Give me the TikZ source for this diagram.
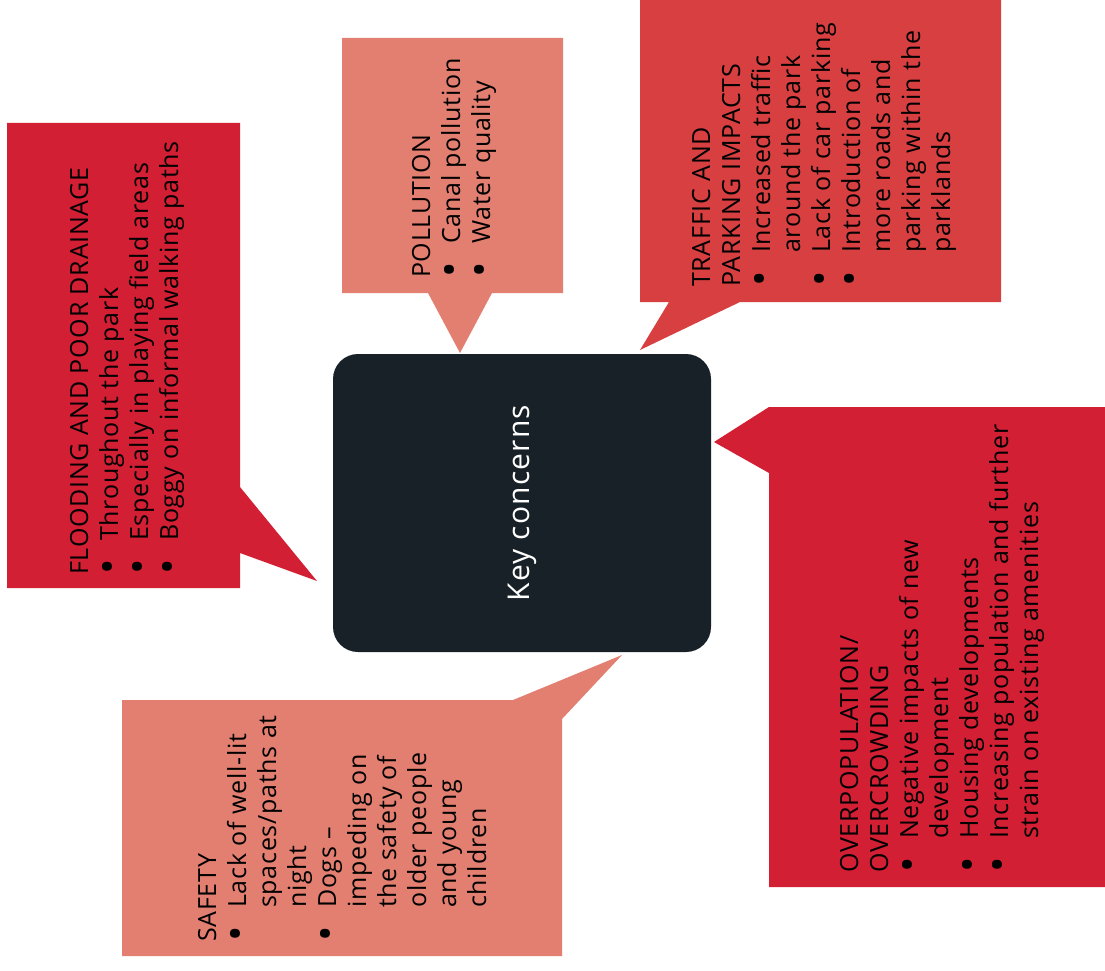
\documentclass[tikz,border=0pt]{standalone}
\usepackage{fontspec}
\setmainfont{Open Sans}
\usepackage{array}
\definecolor{floodred}{RGB}{210,31,51}
\definecolor{trafficred}{RGB}{216,63,64}
\definecolor{salmon}{RGB}{226,127,112}
\definecolor{keydark}{RGB}{24,33,39}
\newcommand{\concernfont}{\fontsize{25}{30}\selectfont\addfontfeatures{LetterSpace=3}}
\newcommand{\bul}{\raisebox{-4.5pt}{\scalebox{1.65}{\textbullet}}}
\tikzset{
  concern/.style={rotate=90, anchor=north west, inner sep=0pt, text=black,
    font=\concernfont},
  keybox/.style={fill=keydark, rounded corners=25pt, minimum width=378pt,
    minimum height=298pt, inner sep=0pt},
  keytext/.style={rotate=90, text=white, inner sep=0pt,
    font=\fontsize{30}{36}\selectfont\addfontfeatures{LetterSpace=4}},
}
\newenvironment{clist}{\begin{tabular}{@{}p{34pt}@{}l@{}}}{\end{tabular}}
\begin{document}
\begin{tikzpicture}[x=1pt, y=-1pt]
  \useasboundingbox (0,0) rectangle (1105,971);

  % central box
  \node[keybox] (key) at (522,503) {};
  \node[keytext] (keylabel) at (key.center) {Key concerns};

  % callout shapes with their pointers
  \fill[floodred] (7,123) -- (240,123) -- (240,487) -- (317,581) -- (240,553)
    -- (240,588) -- (7,588) -- cycle;
  \fill[salmon] (342,38) -- (563,38) -- (563,293) -- (492,293) -- (460,353)
    -- (428,293) -- (342,293) -- cycle;
  \fill[trafficred] (640,0) -- (1001,0) -- (1001,302) -- (740,302) -- (640,350)
    -- (669,302) -- (640,302) -- cycle;
  \fill[floodred] (769,407) -- (1105,407) -- (1105,887) -- (769,887)
    -- (769,473) -- (714,442) -- cycle;
  \fill[salmon] (122,700) -- (513,700) -- (622,655) -- (562,719) -- (562,956)
    -- (122,956) -- cycle;

  % texts
  \node[concern] (flood) at (67,575) {\begin{clist}
    \multicolumn{2}{@{}l@{}}{FLOODING AND POOR DRAINAGE}\\
    \bul & Throughout the park\\
    \bul & Especially in playing field areas\\
    \bul & Boggy on informal walking paths
  \end{clist}};

  \node[concern] (pollution) at (409,278) {\begin{clist}
    \multicolumn{2}{@{}l@{}}{POLLUTION}\\
    \bul & Canal pollution\\
    \bul & Water quality
  \end{clist}};

  \node[concern] (traffic) at (689,287) {\begin{clist}
    \multicolumn{2}{@{}l@{}}{TRAFFIC AND}\\
    \multicolumn{2}{@{}l@{}}{PARKING IMPACTS}\\
    \bul & Increased traffic\\
         & around the park\\
    \bul & Lack of car parking\\
    \bul & Introduction of\\
         & more roads and\\
         & parking within the\\
         & parklands
  \end{clist}};

  \node[concern] (overpop) at (837,873) {\begin{clist}
    \multicolumn{2}{@{}l@{}}{OVERPOPULATION/}\\
    \multicolumn{2}{@{}l@{}}{OVERCROWDING}\\
    \bul & Negative impacts of new\\
         & development\\
    \bul & Housing developments\\
    \bul & Increasing population and further\\
         & strain on existing amenities
  \end{clist}};

  \node[concern] (safety) at (195,942) {\begin{clist}
    \multicolumn{2}{@{}l@{}}{SAFETY}\\
    \bul & Lack of well-lit\\
         & spaces/paths at\\
         & night\\
    \bul & Dogs --\\
         & impeding on\\
         & the safety of\\
         & older people\\
         & and young\\
         & children
  \end{clist}};
\end{tikzpicture}
\end{document}
